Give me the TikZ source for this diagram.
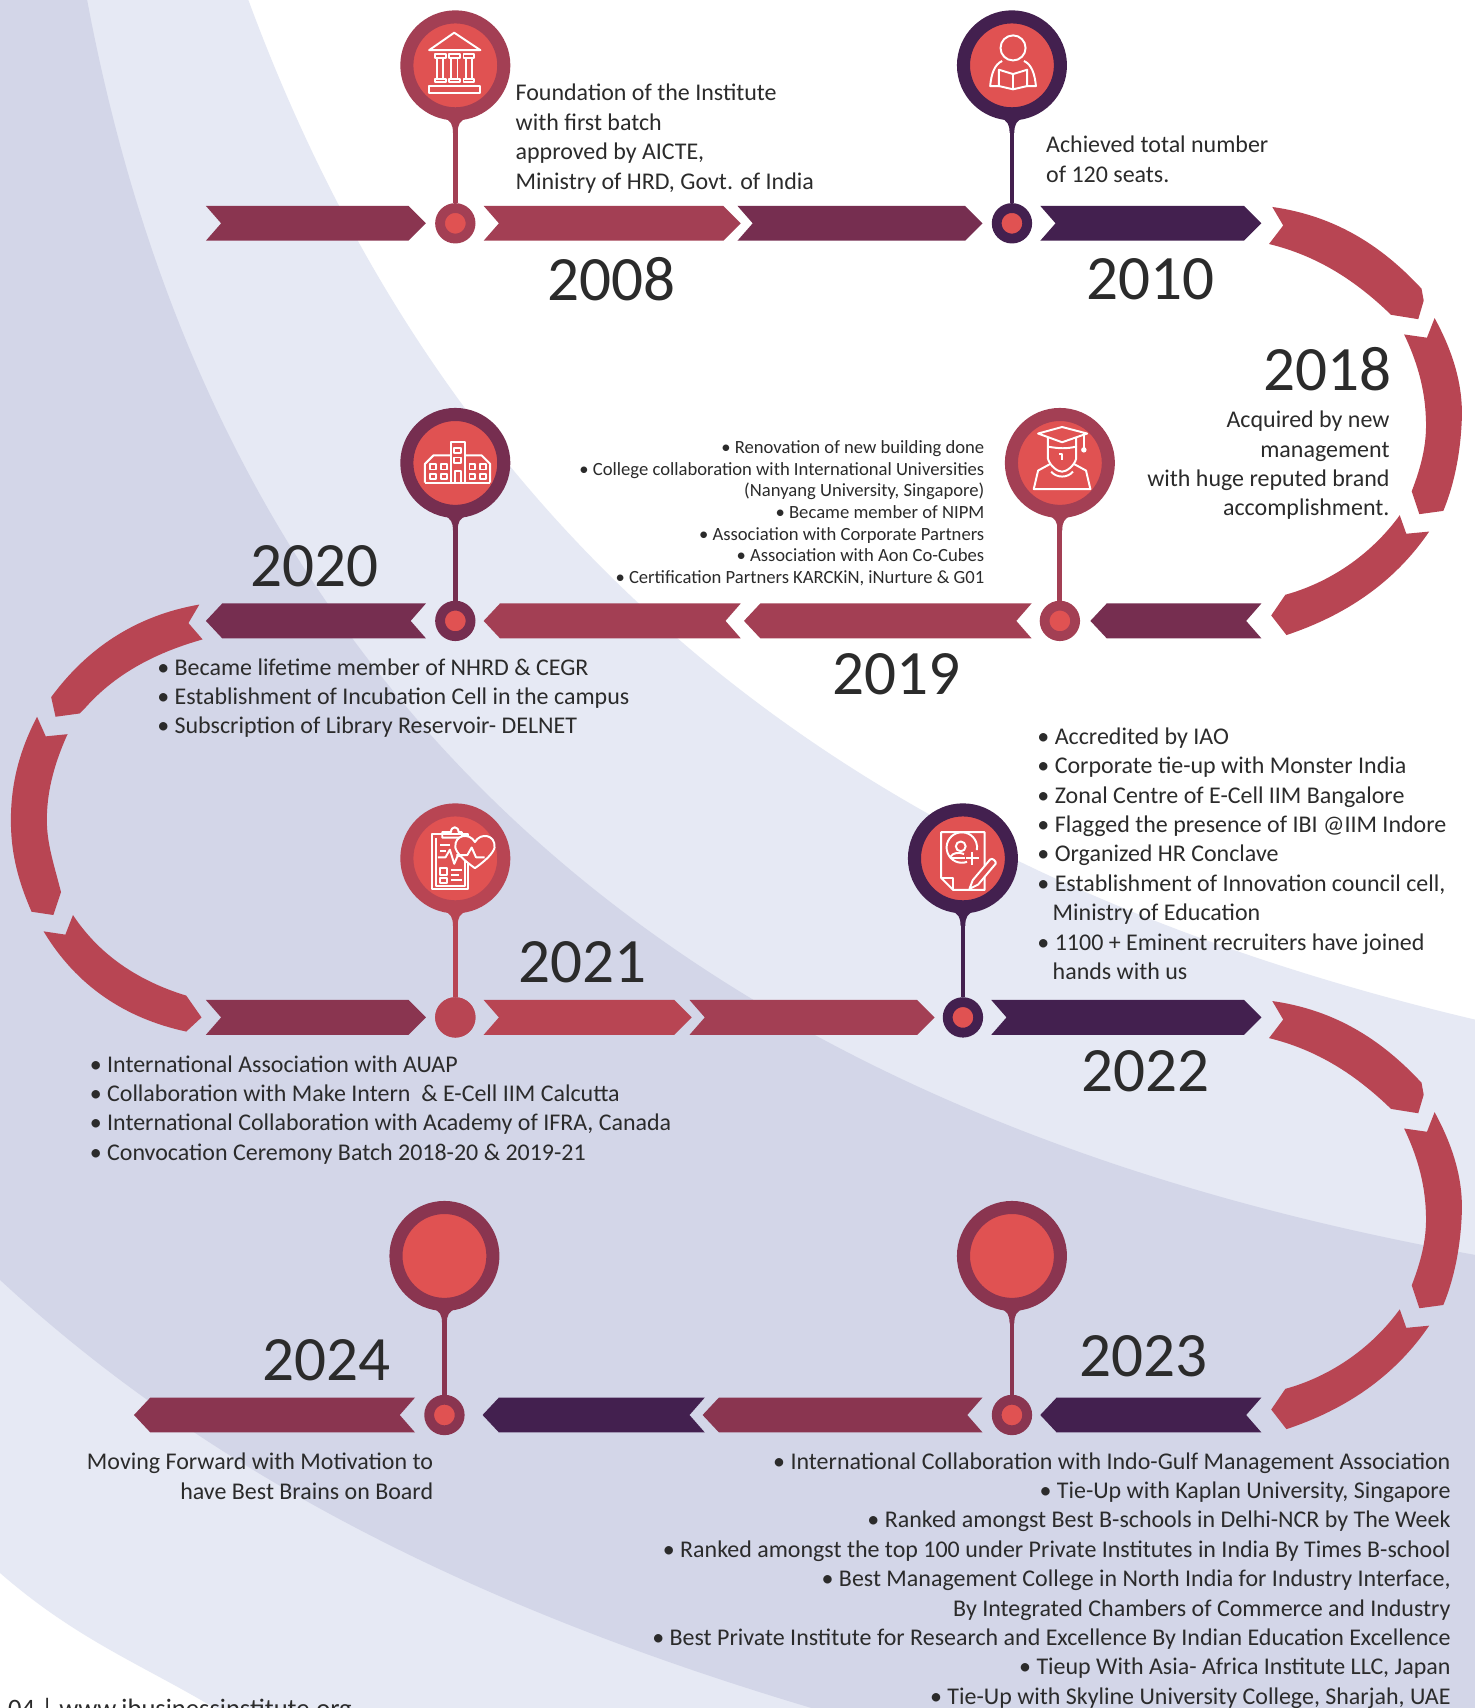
\documentclass[tikz,border=0pt]{standalone}
\usepackage{fontspec}
\setmainfont{Carlito}
\definecolor{bandlight}{HTML}{E6E9F4}
\definecolor{banddark}{HTML}{D3D6E8}
\definecolor{coral}{HTML}{E05252}
\definecolor{rose}{HTML}{B84553}
\definecolor{berry}{HTML}{A33F54}
\definecolor{wine}{HTML}{8A3550}
\definecolor{plum}{HTML}{762E50}
\definecolor{aubergine}{HTML}{43204F}
\definecolor{inktext}{HTML}{2B2B2B}
\tikzset{
  yearlabel/.style={text=inktext,inner sep=0pt,font=\fontsize{29}{31}\selectfont},
  bodytext/.style={text=inktext,inner sep=0pt,font=\fontsize{11}{13.5}\selectfont},
  smalltext/.style={text=inktext,inner sep=0pt,font=\fontsize{8.55}{9.95}\selectfont},
  pinhead/.style={circle,inner sep=0pt,minimum size=44.5pt,line width=6pt,draw=#1,fill=coral},
  pinfoot/.style={circle,inner sep=0pt,minimum size=14pt,line width=4.5pt,draw=#1,fill=coral},
  stemline/.style={line width=2.2pt,draw=#1},
  iconline/.style={draw=white,line width=0.9pt,line join=round,fill=none},
}
% ribbon with notch on the left and point on the right
\newcommand{\ribbonfwd}[4]{\fill[#4] (#1,#3-16) -- (#2-16,#3-16) -- (#2,#3) -- (#2-16,#3+16) -- (#1,#3+16) -- (#1+14,#3) -- cycle;}
% ribbon with point on the left and notch on the right
\newcommand{\ribbonbwd}[4]{\fill[#4] (#1+15,#3-16) -- (#2,#3-16) -- (#2-14,#3) -- (#2,#3+16) -- (#1+15,#3+16) -- (#1,#3) -- cycle;}
% pin: name, x, y of head, y of foot, colour
\newcommand{\timepin}[5]{%
  \node[pinhead=#5] (pin#1) at (#2,#3) {};
  \node[pinfoot=#5] (foot#1) at (#2,#4) {};
  \fill[#5] (#2-11,#3+48) .. controls (#2-4,#3+51) and (#2-2.2,#3+54) .. (#2-2.2,#3+62) -- (#2+2.2,#3+62) .. controls (#2+2.2,#3+54) and (#2+4,#3+51) .. (#2+11,#3+48) -- cycle;
  \draw[stemline=#5] (pin#1) -- (foot#1);
}
% the three arcs on the right side, y offset as argument
\newcommand{\rightarcs}[1]{%
  \fill[rose] (1168,190+#1) .. controls (1225,198+#1) and (1268,225+#1) .. (1305,265+#1) -- (1307,276+#1) -- (1302,293+#1) -- (1277,289+#1) .. controls (1245,258+#1) and (1210,235+#1) .. (1165,224+#1) -- (1178,207+#1) -- cycle;
  \fill[rose] (1289,307+#1) -- (1310,310+#1) -- (1317,292+#1) .. controls (1335,325+#1) and (1343,355+#1) .. (1342,384+#1) .. controls (1341,415+#1) and (1335,445+#1) .. (1325,469+#1) -- (1303,472+#1) -- (1296,451+#1) .. controls (1306,425+#1) and (1310,405+#1) .. (1309,384+#1) .. controls (1308,355+#1) and (1300,330+#1) .. (1289,307+#1) -- cycle;
  \fill[rose] (1285,473+#1) -- (1291,490+#1) -- (1312,488+#1) .. controls (1280,535+#1) and (1235,565+#1) .. (1181,583+#1) -- (1167,565+#1) -- (1180,546+#1) .. controls (1220,535+#1) and (1258,510+#1) .. (1285,473+#1) -- cycle;
}
\begin{document}
\begin{tikzpicture}[x=0.5pt,y=-0.5pt]
\useasboundingbox (0,0) rectangle (1354,1568);
\clip (0,0) rectangle (1354,1568);

% Background bands
\fill[white] (0,0) rectangle (1354,1568);
\fill[bandlight] (228,0) .. controls (420,520) and (800,805) .. (1354,936) -- (1354,1568) -- (197,1568) .. controls (130,1528) and (70,1505) .. (0,1444) -- (0,0) -- cycle;
\fill[banddark] (80,0) .. controls (200,640) and (620,1020) .. (1354,1152) -- (1354,1568) -- (745,1568) .. controls (450,1480) and (200,1360) .. (0,1175) -- (0,0) -- cycle;

% Row one
\ribbonfwd{189}{391}{205}{wine}
\ribbonfwd{444}{680}{205}{berry}
\ribbonfwd{677}{902}{205}{plum}
\ribbonfwd{955}{1158}{205}{aubergine}
\timepin{Found}{418}{60}{205}{berry}
\timepin{Seats}{929}{60}{205}{aubergine}

% Row two
\ribbonbwd{1001}{1158}{570}{plum}
\ribbonbwd{683}{947}{570}{berry}
\ribbonbwd{444}{680}{570}{berry}
\ribbonbwd{189}{391}{570}{plum}
\timepin{Grad}{973}{425}{570}{berry}
\timepin{Campus}{418}{425}{570}{plum}

% Row three
\ribbonfwd{189}{391}{934}{wine}
\ribbonfwd{444}{635}{934}{rose}
\ribbonfwd{633}{858}{934}{berry}
\ribbonfwd{910}{1158}{934}{aubergine}
\timepin{Health}{418}{788}{934}{rose}
\timepin{Recruit}{884}{788}{934}{aubergine}
\fill[rose] (footHealth) circle (18.5);

% Row four
\ribbonbwd{955}{1158}{1299}{aubergine}
\ribbonbwd{645}{902}{1299}{wine}
\ribbonbwd{443}{647}{1299}{aubergine}
\ribbonbwd{123}{381}{1299}{wine}
\timepin{Now}{929}{1153}{1299}{wine}
\timepin{Next}{408}{1153}{1299}{wine}

% Arcs on the right
\rightarcs{0}
\rightarcs{729}

% Arcs on the left
\fill[rose] (183,555) -- (173,572) -- (186,587) .. controls (140,600) and (105,620) .. (79,649) -- (73,655) -- (51,658) -- (47,640) .. controls (80,595) and (125,565) .. (183,555) -- cycle;
\fill[rose] (34,658) -- (42,676) -- (62,674) .. controls (48,705) and (43,730) .. (43,753) .. controls (43,775) and (50,795) .. (56,819) -- (49,840) -- (29,837) .. controls (15,805) and (10,780) .. (10,753) .. controls (10,715) and (20,685) .. (34,658) -- cycle;
\fill[rose] (67,840) -- (60,858) -- (40,855) .. controls (70,905) and (115,935) .. (171,947) -- (185,934) -- (171,914) .. controls (125,900) and (90,875) .. (67,840) -- cycle;

% Icon: temple
\begin{scope}[shift={(pinFound.center)},iconline]
\draw (-1,-30) -- (-24,-14) -- (23,-14) -- cycle;
\draw (-19,-10) rectangle (-9,-6.5) (-6,-10) rectangle (4,-6.5) (7.5,-10) rectangle (17.5,-6.5);
\draw (-17,-6.5) -- (-17,12.5) (-11,-6.5) -- (-11,12.5) (-4,-6.5) -- (-4,12.5) (2,-6.5) -- (2,12.5) (9.5,-6.5) -- (9.5,12.5) (15.5,-6.5) -- (15.5,12.5);
\draw (-19,12.5) rectangle (-9,15.5) (-6,12.5) rectangle (4,15.5) (7.5,12.5) rectangle (17.5,15.5);
\draw (-24,19) rectangle (23,25.5);
\end{scope}

% Icon: reader
\begin{scope}[shift={(pinSeats.center)},iconline]
\draw (1,-16) circle (11.5);
\draw (-9,-4) .. controls (-16,-1) and (-19,8) .. (-20,19) -- (-12,19) (11,-4) .. controls (18,-1) and (21,8) .. (22,19) -- (14,19);
\draw (-12,4) -- (1,8) -- (14,4) -- (14,19) -- (1,22) -- (-12,19) -- cycle;
\draw (1,8) -- (1,22);
\end{scope}

% Icon: school building
\begin{scope}[shift={(pinCampus.center)},iconline]
\draw (-28,18) -- (-28,1) -- (-20,-7) -- (-4,-7) (32,18) -- (32,1) -- (24,-7) -- (9,-7);
\draw (-4,18) -- (-4,-19) -- (9,-19) -- (9,18);
\draw (-28,18) -- (32,18);
\draw (-1,-14) rectangle (5,-9) (-1,-5) rectangle (5,0) (0,7) rectangle (5,18);
\draw (-23,1) rectangle (-18,6) (-13,1) rectangle (-8,6) (-23,10) rectangle (-18,15) (-13,10) rectangle (-8,15);
\draw (13,1) rectangle (18,6) (23,1) rectangle (28,6) (13,10) rectangle (18,15) (23,10) rectangle (28,15);
\end{scope}

% Icon: graduate
\begin{scope}[shift={(pinGrad.center)},iconline]
\draw (-20,-27) -- (2,-33) -- (25,-27) -- (2,-19) -- cycle;
\draw (-11,-23) -- (-11,-15) .. controls (0,-13) and (6,-13) .. (15,-15) -- (15,-23);
\draw (-11,-15) -- (-11,-4) .. controls (-9,3) and (-2,8) .. (2,8) .. controls (6,8) and (13,3) .. (15,-4) -- (15,-15);
\draw (-1,-8) -- (2,-8) -- (2,-3);
\draw (-9,1) -- (-20,7) -- (-24,24) -- (28,24) -- (24,7) -- (13,1);
\draw (-8,8) .. controls (-3,14) and (7,14) .. (12,8);
\draw (22,-26) -- (22,-14);
\fill[white] (22,-12) circle (2.5);
\end{scope}

% Icon: clipboard and heart
\begin{scope}[shift={(pinHealth.center)},iconline]
\draw (-21,-22) rectangle (12,28);
\draw (-18,-19) -- (-18,25) -- (9,25) -- (9,-19);
\draw (-12,-19) -- (-12,-24) -- (-4,-24) .. controls (-4,-30) and (3,-30) .. (3,-24) -- (6,-24) -- (6,-19) -- cycle;
\draw (-14,-12) -- (-5,-12) (-14,-7) -- (-9,-7);
\draw (-16,-1) -- (-9,-1) -- (-5,-8) -- (-1,5) -- (2,-2) -- (5,-2);
\draw (-14,9) rectangle (-8,15) (-14,18) rectangle (-8,23);
\draw (-4,11) -- (6,11) (-4,15) -- (3,15) (-4,20) -- (6,20);
\fill[coral] (18,9) .. controls (8,2) and (1,-5) .. (0,-10) .. controls (-1,-22) and (13,-24) .. (18,-15) .. controls (23,-24) and (37,-22) .. (36,-10) .. controls (35,-5) and (28,2) .. (18,9) -- cycle;
\draw (18,9) .. controls (8,2) and (1,-5) .. (0,-10) .. controls (-1,-22) and (13,-24) .. (18,-15) .. controls (23,-24) and (37,-22) .. (36,-10) .. controls (35,-5) and (28,2) .. (18,9) -- cycle;
\draw (1,-3) -- (11,-3) -- (15,-10) -- (19,-1) -- (27,-1);
\end{scope}

% Icon: document and pencil
\begin{scope}[shift={(pinRecruit.center)},iconline]
\draw (-9,29) -- (20,29) -- (20,-24) -- (-20,-24) -- (-20,18) -- cycle;
\draw (-20,18) -- (-9,18) -- (-9,29);
\draw (3.8,3.2) arc (70:370:14);
\draw (-2,-11) circle (4.5);
\draw (-11,0) -- (-11,-2) .. controls (-9,-5) and (-4,-6) .. (1,-4);
\draw (-11,0) -- (2,0);
\draw (8.6,-6) -- (8.6,6) (2.6,0) -- (14.6,0);
\fill[coral] (6,23) -- (25,1) -- (30,5) -- (11,27) -- cycle;
\draw (6,28) -- (9,20) -- (25,1) .. controls (27,-1) and (31,3) .. (30,5) -- (14,24) -- cycle;
\end{scope}

% Years
\node[yearlabel] (yearA) at (561,256) {2008};
\node[yearlabel] (yearB) at (1056,256) {2010};
\node[yearlabel,anchor=east] (yearC) at (1278,339) {2018};
\node[yearlabel] (yearD) at (823,619) {2019};
\node[yearlabel] (yearE) at (289,520) {2020};
\node[yearlabel] (yearF) at (535,883) {2021};
\node[yearlabel] (yearG) at (1052,983) {2022};
\node[yearlabel] (yearH) at (1050,1245) {2023};
\node[yearlabel] (yearI) at (300,1249) {2024};

% Labels
\node[bodytext,anchor=north west,align=left] (textA) at (473,77) {Foundation of the Institute\\with first batch\\approved by AICTE,\\Ministry of HRD, Govt. of India};
\node[bodytext,anchor=north west,align=left] (textB) at (960,124.5) {Achieved total number\\of 120 seats.};
\node[bodytext,anchor=north east,align=right] (textC) at (1276,377) {Acquired by new\\management\\with huge reputed brand\\accomplishment.};
\node[smalltext,anchor=north east,align=right] (textD) at (904,404) {• Renovation of new building done\\• College collaboration with International Universities\\(Nanyang University, Singapore)\\• Became member of NIPM\\• Association with Corporate Partners\\• Association with Aon Co-Cubes\\• Certification Partners KARCKiN, iNurture \& G01};
\node[bodytext,anchor=north west,align=left] (textE) at (144,604) {• Became lifetime member of NHRD \& CEGR\\• Establishment of Incubation Cell in the campus\\• Subscription of Library Reservoir- DELNET};
\node[bodytext,anchor=north west,align=left] (textF) at (82,968.5) {• International Association with AUAP\\• Collaboration with Make Intern\ \ \& E-Cell IIM Calcutta\\• International Collaboration with Academy of IFRA, Canada\\• Convocation Ceremony Batch 2018-20 \& 2019-21};
\node[bodytext,anchor=north west,align=left] (textG) at (952,667.5) {• Accredited by IAO\\• Corporate tie-up with Monster India\\• Zonal Centre of E-Cell IIM Bangalore\\• Flagged the presence of IBI @IIM Indore\\• Organized HR Conclave\\• Establishment of Innovation council cell,\\\hspace*{7pt}Ministry of Education\\• 1100 + Eminent recruiters have joined\\\hspace*{7pt}hands with us};
\node[bodytext,anchor=north east,align=right] (textH) at (398,1333.5) {Moving Forward with Motivation to\\have Best Brains on Board};
\node[bodytext,anchor=north east,align=right] (textI) at (1332,1333) {• International Collaboration with Indo-Gulf Management Association\\• Tie-Up with Kaplan University, Singapore\\• Ranked amongst Best B-schools in Delhi-NCR by The Week\\• Ranked amongst the top 100 under Private Institutes in India By Times B-school\\• Best Management College in North India for Industry Interface,\\By Integrated Chambers of Commerce and Industry\\• Best Private Institute for Research and Excellence By Indian Education Excellence\\• Tieup With Asia- Africa Institute LLC, Japan\\• Tie-Up with Skyline University College, Sharjah, UAE};
\node[bodytext,anchor=base west,font=\fontsize{12.2}{15}\selectfont] (footer) at (7,1577) {04 | www.ibusinessinstitute.org};
\end{tikzpicture}
\end{document}
